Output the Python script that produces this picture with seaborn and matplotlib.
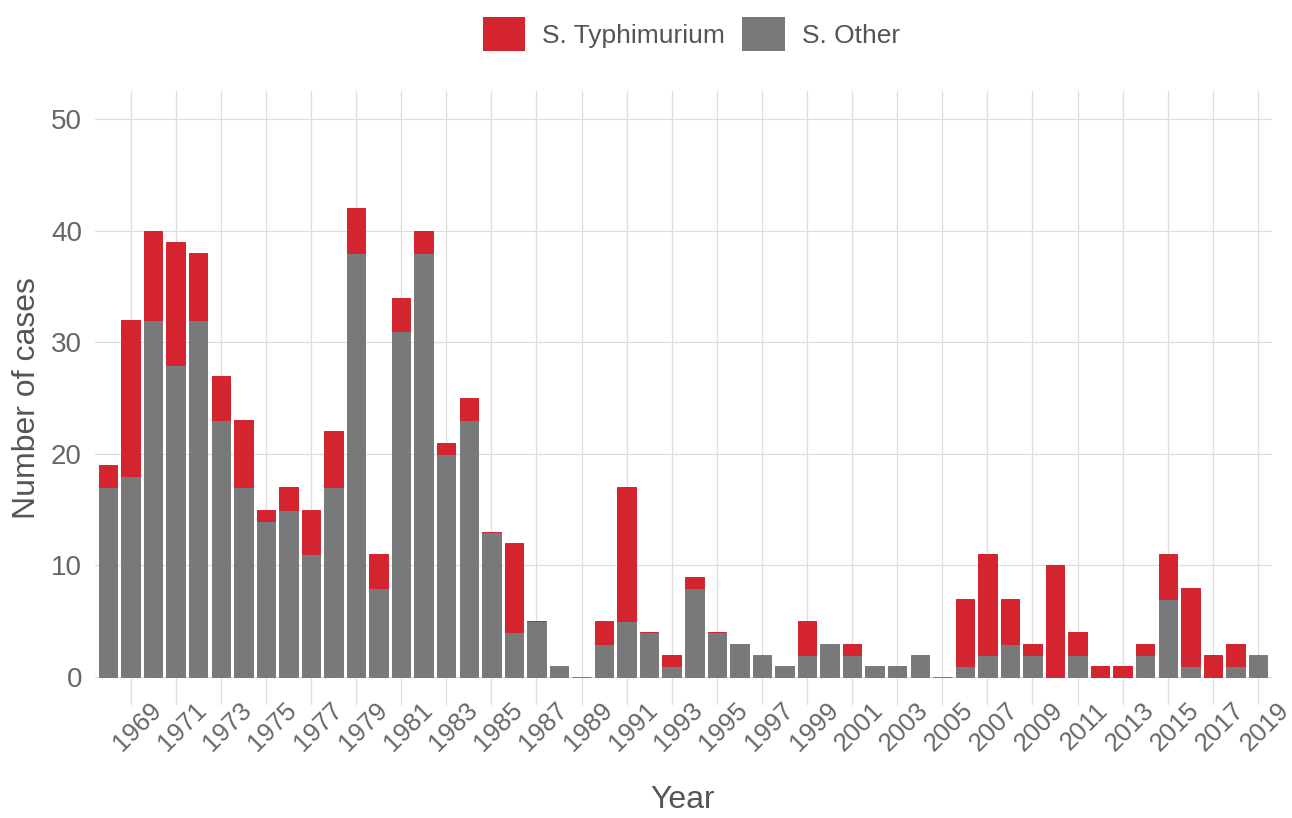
import numpy as np
import pandas as pd
import seaborn as sns
import matplotlib.pyplot as plt
from matplotlib.patches import Patch
from matplotlib.transforms import ScaledTranslation

# Data (1968-2019)
years = list(range(1968, 2020))
other = [17, 18, 32, 28, 32, 23, 17, 14, 15, 11,
         17, 38, 8, 31, 38, 20, 23, 13, 4, 5,
         1, 0, 3, 5, 4, 1, 8, 4, 3, 2,
         1, 2, 3, 2, 1, 1, 2, 0, 1, 2,
         3, 2, 0, 2, 0, 0, 2, 7, 1, 0,
         1, 2]
nan = np.nan
typhi = [2, 14, 8, 11, 6, 4, 6, 1, 2, 4,
         5, 4, 3, 3, 2, 1, 2, 0, 8, 0,
         nan, nan, 2, 12, 0, 1, 1, 0, nan, nan,
         nan, 3, nan, 1, nan, nan, nan, nan, 6, 9,
         4, 1, 10, 2, 1, 1, 1, 4, 7, 2,
         2, nan]
series_names = ["S. Typhimurium", "S. Other"]

red = "#D3242F"
grey = "#78797B"

df = pd.DataFrame({"Year": [str(y) for y in years], "Other": other, "Typhi": typhi})
order = df["Year"].tolist()

sns.set_style("white")
plt.rcParams['font.family'] = ['Liberation Sans', 'DejaVu Sans']

fig = plt.figure(figsize=(12.92, 8.18), dpi=100)
ax = fig.add_axes([94.5 / 1292, 1 - 705 / 818, 1177 / 1292, 614 / 818])

# grey bars first, red stacked on top of them
sns.barplot(data=df, x="Year", y="Other", order=order, color=grey, errorbar=None,
            width=0.82, saturation=1, edgecolor=grey, linewidth=0.7, ax=ax, zorder=2)
sub = df.dropna(subset=["Typhi"])
sns.barplot(data=sub, x="Year", y="Typhi", order=order, color=red, errorbar=None,
            width=0.82, saturation=1, edgecolor=red, linewidth=0.7,
            bottom=sub["Other"].to_numpy(), ax=ax, zorder=3)

# axes and grid
ax.set_xlim(-0.6, len(years) - 0.4)
ax.set_ylim(-2.5, 52.5)
ax.set_yticks(range(0, 51, 10))
tick_pos = list(range(1, len(years), 2))
ax.set_xticks(tick_pos)
ax.set_xticklabels([order[i] for i in tick_pos])
ax.set_axisbelow(True)
ax.grid(True, color="#DEDEDE", linewidth=0.9)
for s in ax.spines.values():
    s.set_visible(False)

ax.tick_params(axis="y", length=0, pad=9, labelsize=20, labelcolor="#666666")
ax.tick_params(axis="x", length=0, pad=0, labelsize=18.5, labelcolor="#666666", labelrotation=45)
shift = ScaledTranslation(7 / 100, 7 / 100, fig.dpi_scale_trans)
for lab in ax.get_xticklabels():
    lab.set_ha("center")
    lab.set_va("top")
    lab.set_transform(lab.get_transform() + shift)

ax.set_xlabel("Year", fontsize=23, color="#555555", va="center")
ax.xaxis.set_label_coords(0.5, (705 - 800.5) / 614)
ax.set_ylabel("Number of cases", fontsize=23, color="#555555", va="center")
ax.yaxis.set_label_coords((27 - 94.5) / 1177, 0.5)

handles = [Patch(facecolor=red, edgecolor="none"), Patch(facecolor=grey, edgecolor="none")]
fig.legend(handles, series_names, loc="center", bbox_to_anchor=(691.5 / 1292, 1 - 34 / 818),
           bbox_transform=fig.transFigure, ncol=2, frameon=False, fontsize=19,
           labelcolor="#555555", handlelength=1.6, handleheight=1.6,
           handletextpad=0.65, columnspacing=0.65, borderpad=0, borderaxespad=0)

fig.savefig("out.png", dpi=100)
